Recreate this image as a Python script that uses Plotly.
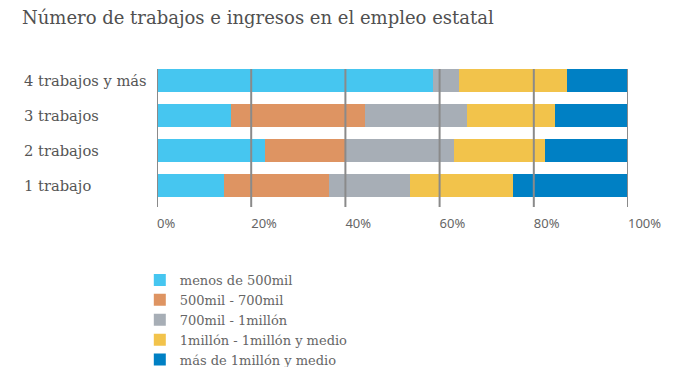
import plotly.graph_objects as go

categories = ["1 trabajo", "2 trabajos", "3 trabajos", "4 trabajos y más"]
series_names = ["menos de 500mil", "500mil - 700mil", "700mil - 1millón",
                "1millón - 1millón y medio", "más de 1millón y medio"]
menos_500 = [14.2, 22.9, 15.8, 58.7]
de_500_700 = [22.3, 17.0, 28.4, 0.0]
de_700_1m = [17.2, 23.2, 21.7, 5.4]
de_1m_15m = [21.9, 19.2, 18.5, 22.9]
mas_15m = [24.4, 17.7, 15.6, 13.0]
tick_values = [0, 20, 40, 60, 80, 100]
tick_labels = ["0%", "20%", "40%", "60%", "80%", "100%"]

series_values = [menos_500, de_500_700, de_700_1m, de_1m_15m, mas_15m]
colors = ["#46C6F0", "#DE9462", "#A7AEB6", "#F2C34B", "#0080C4"]

serif = "DejaVu Serif"
fig = go.Figure()
for name, vals, col in zip(series_names, series_values, colors):
    fig.add_trace(go.Bar(
        y=categories, x=vals, name=name, orientation="h",
        marker=dict(color=col, line=dict(width=0)), width=0.66,
        hoverinfo="x+name",
    ))

for tv in tick_values:
    fig.add_shape(type="line", xref="x", yref="y domain", x0=tv, x1=tv,
                  y0=0, y1=1, layer="above",
                  line=dict(color="#8a8a8a", width=2))

for cat in categories:
    fig.add_annotation(text=cat, xref="paper", yref="y", x=-0.2866, y=cat,
                       xanchor="left", yanchor="middle", showarrow=False,
                       font=dict(family=serif, size=14.7, color="#555555"))

fig.update_layout(
    width=700, height=367,
    margin=dict(l=149, r=80, t=61, b=168),
    barmode="stack",
    plot_bgcolor="white", paper_bgcolor="white",
    title=dict(text="Número de trabajos e ingresos en el empleo estatal",
               x=14 / 700, xanchor="left", y=1 - 10 / 367, yanchor="middle",
               font=dict(family=serif, size=18, color="#505050")),
    xaxis=dict(range=[0, 100], tickvals=tick_values, ticktext=tick_labels,
               showgrid=False, zeroline=False, showline=False,
               ticklabelposition="outside right", ticklabelstandoff=7,
               tickfont=dict(family="Noto Sans", size=13, color="#666666")),
    yaxis=dict(range=[-0.616, 3.33], showticklabels=False, showgrid=False,
               zeroline=False, showline=False, categoryorder="array",
               categoryarray=categories),
    legend=dict(orientation="v", x=-0.0365, xanchor="left",
                yref="container", y=1 - 257 / 367,
                yanchor="top", traceorder="normal", itemwidth=30,
                font=dict(family=serif, size=13, color="#666666"),
                bgcolor="rgba(0,0,0,0)"),
    bargap=0.34,
)

fig.write_html("out.html")
